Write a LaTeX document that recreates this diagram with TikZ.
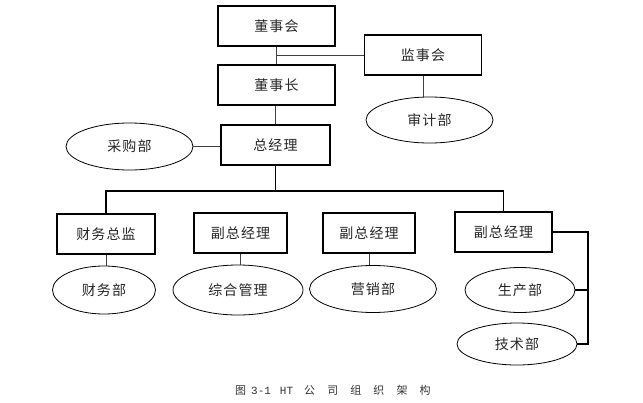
\documentclass[tikz,border=0pt]{standalone}
\usepackage{fontspec}
\setmainfont{Noto Sans CJK SC}[LetterSpace=8]
\newfontfamily\capfont{Noto Sans CJK SC}[LetterSpace=110]
\newfontfamily\capnum{Liberation Mono}
\usetikzlibrary{shapes.geometric, positioning}

\begin{document}
\begin{tikzpicture}[x=1pt, y=-1pt,
    box/.style={draw, line width=1.5pt, inner sep=0pt, minimum height=40pt, text=black!85, font=\fontsize{14}{16}\selectfont},
    dept/.style={draw, ellipse, line width=0.8pt, inner sep=0pt, text=black!85, font=\fontsize{14}{16}\selectfont},
    link/.style={line width=0.9pt, draw=black!75},
    tree/.style={line width=1.5pt}]
        \useasboundingbox (0,0) rectangle (643,402);

        % top: board
        \node[box, minimum width=117pt] (dsh) at (276.5,26) {董事会};
        \node[box, minimum width=117pt] (dsz) at (276.5,85) {董事长};
        \node[box, minimum width=117pt] (jsh) at (423,55) {监事会};
        \node[dept, minimum width=127pt, minimum height=46pt] (sjb) at (429.5,120) {审计部};

        \draw[link] (dsz.north) -- (dsz.north |- dsh.south);
        \draw[link] (jsh.west) -- (jsh.west -| dsz.north);
        \draw[link] (jsh.south) -- (jsh.south |- sjb.north);

        % general manager
        \node[box, minimum width=109pt] (zjl) at (275.5,145) {总经理};
        \node[dept, minimum width=127pt, minimum height=47pt] (cgb) at (129.5,146.5) {采购部};

        \draw[link] (zjl.north) -- (zjl.north |- dsz.south);
        \draw[link] (cgb.east) -- (cgb.east -| zjl.west);

        % second level
        \node[box, minimum width=98pt] (cwzj) at (106,234) {财务总监};
        \node[box, minimum width=93pt] (fz2) at (240.5,233) {副总经理};
        \node[box, minimum width=92pt] (fz3) at (369,233) {副总经理};
        \node[box, minimum width=97pt] (fz4) at (503.5,232) {副总经理};

        \draw[tree] (zjl.south) -- ++(0,25) coordinate (bus);
        \draw[tree] (cwzj.north) |- (bus) -| (fz4.north);

        % departments
        \node[dept, minimum width=103pt, minimum height=48pt] (cwb) at (104,290) {财务部};
        \node[dept, minimum width=130pt, minimum height=50pt] (zhgl) at (238,290) {综合管理};
        \node[dept, minimum width=127pt, minimum height=47pt] (yxb) at (373,289) {营销部};
        \node[dept, minimum width=110pt, minimum height=45pt] (scb) at (520,290) {生产部};
        \node[dept, minimum width=120pt, minimum height=42pt] (jsb) at (517,344) {技术部};

        \draw[link] (cwzj.south) -- (cwzj.south |- cwb.north);
        \draw[link] (fz2.south) -- (fz2.south |- zhgl.north);
        \draw[link] (fz3.south) -- (fz3.south |- yxb.north);
        \draw[tree] (fz4.east) -- ++(35,0) coordinate (rc) |- (jsb.east);
        \draw[tree] (scb.east) -- (scb.east -| rc);

        \node[font=\fontsize{11}{13}\selectfont, text=black!80, inner sep=0pt, anchor=west] (cap) at (235,390)
            {\mbox{\setmainfont{Noto Sans CJK SC}图}\hspace{5pt}{\capnum 3-1}\hspace{9pt}{\capnum HT}\hspace{11pt}{\capfont 公司组织架构}};
    \end{tikzpicture}
\end{document}
